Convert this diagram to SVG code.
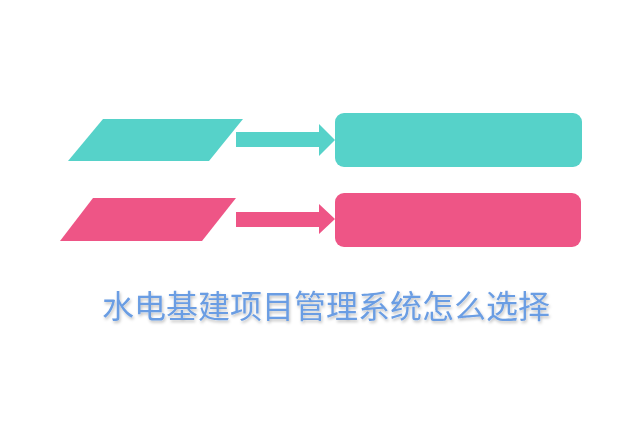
<svg xmlns="http://www.w3.org/2000/svg" width="640" height="427" viewBox="0 0 640 427">
<defs>
<filter id="sh" x="-10%" y="-30%" width="120%" height="160%"><feDropShadow dx="1" dy="2" stdDeviation="1.5" flood-color="#000" flood-opacity="0.25"/></filter>
<style>.t{fill:#56d2c9}.p{fill:#ee5586}.lbl{font-family:"Noto Sans CJK SC",sans-serif;font-size:32px;fill:#6a9de3;text-anchor:middle}</style>
</defs>
<rect width="640" height="427" fill="#fff"/>
<g id="node-teal-para"><polygon class="t" points="103,119 243,119 209,161 68,161"/></g>
<g id="node-teal-box"><rect class="t" x="335" y="113" width="247" height="54" rx="9"/></g>
<g id="node-pink-para"><polygon class="p" points="93,198 236,198 202,241 60,241"/></g>
<g id="node-pink-box"><rect class="p" x="335" y="193" width="246" height="54" rx="9"/></g>
<g id="connectors">
<polygon class="t" points="236,132 319,132 319,124 335,140 319,156 319,147 236,147"/>
<polygon class="p" points="236,212 319,212 319,204 335,219 319,234 319,227 236,227"/>
</g>
<g id="title"><text class="lbl" x="326" y="318" filter="url(#sh)">水电基建项目管理系统怎么选择</text></g>
</svg>
